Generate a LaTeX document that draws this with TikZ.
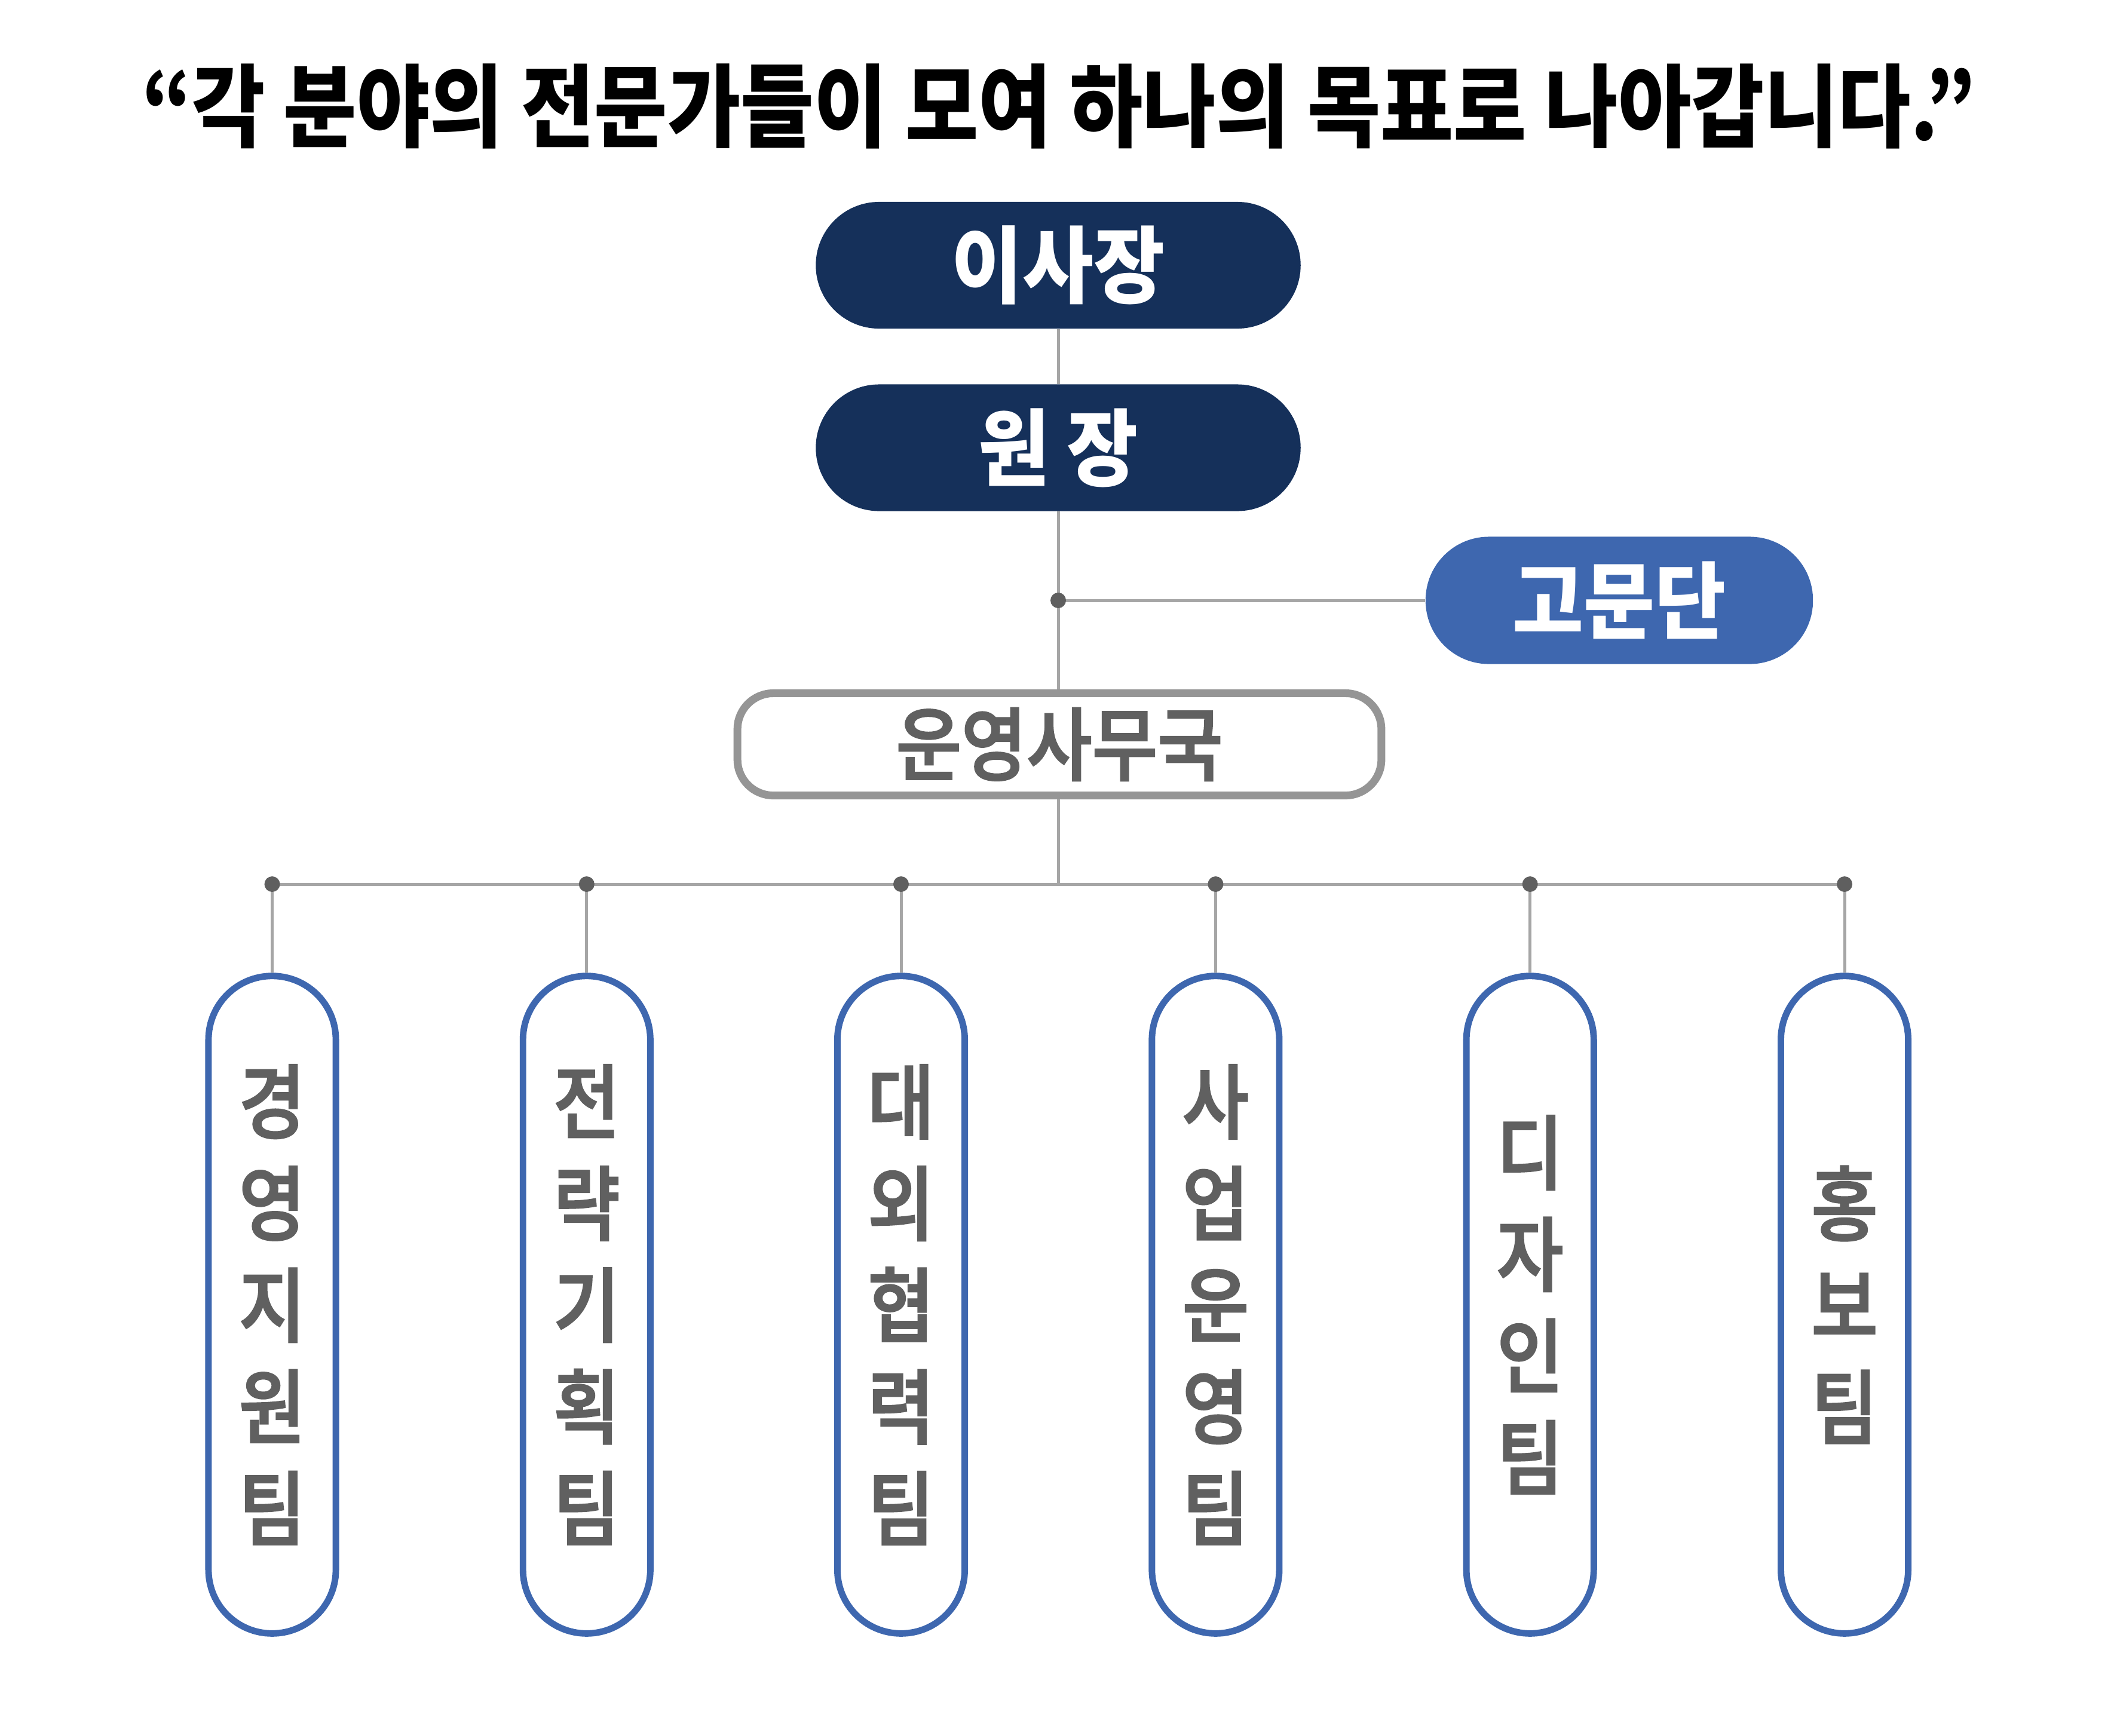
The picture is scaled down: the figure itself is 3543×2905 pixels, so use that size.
\documentclass[tikz,border=0pt]{standalone}
\usepackage{fontspec}
\setmainfont{Noto Sans CJK KR}[FakeStretch=0.92]
\newfontfamily\headfont{Noto Sans CJK KR}[FakeStretch=0.88]
\newfontfamily\grayfont{Noto Sans CJK KR Medium}[FakeStretch=0.89,FakeBold=2]
\definecolor{navy}{HTML}{15305A}
\definecolor{midblue}{HTML}{3E67AF}
\definecolor{linegray}{HTML}{A6A6A6}
\definecolor{dotgray}{HTML}{5F5F5F}
\definecolor{txtgray}{HTML}{606060}
\definecolor{boxgray}{HTML}{959595}
\def\pdot{\fill[dotgray]}

\begin{document}
\begin{tikzpicture}[x=0.01cm,y=-0.01cm,
    headline/.style={font=\headfont\bfseries\fontsize{43}{51}\selectfont,inner sep=0pt},
    darkbox/.style={fill=navy,text=white,font=\bfseries\fontsize{40}{48}\selectfont,
        minimum width=8.11cm,minimum height=2.12cm,rounded corners=1.06cm,inner sep=0pt},
    advbox/.style={fill=midblue,text=white,font=\bfseries\fontsize{40}{48}\selectfont,
        minimum width=6.48cm,minimum height=2.13cm,rounded corners=1.06cm,inner sep=0pt},
    opsbox/.style={draw=boxgray,line width=3.7pt,fill=white,text=txtgray,
        font=\grayfont\fontsize{38}{46}\selectfont,
        minimum width=10.77cm,minimum height=1.71cm,rounded corners=0.6cm,inner sep=0pt},
    teambox/.style={draw=midblue,line width=3.1pt,fill=white,text=txtgray,align=center,
        font=\grayfont\fontsize{38.7}{48.4}\selectfont,
        minimum width=2.13cm,minimum height=11cm,rounded corners=1.065cm,inner sep=0pt},
    conn/.style={draw=linegray,line width=1.42pt}]
    \fill[white] (0,0) rectangle (3543,2905);

    % title
    \node[headline] (head) at (1772,178) {“각 분야의 전문가들이 모여 하나의 목표로 나아갑니다.”};

    % top of the chart
    \node[darkbox] (chair) at (1771,444) {이사장};
    \node[darkbox] (dir) at (1771,749.5) {원 장};
    \node[advbox] (adv) at (2710,1005) {고문단};
    \node[opsbox] (ops) at (1773,1246) {운영사무국};
    \coordinate (jadv) at (1771,1005);

    % teams
    \node[teambox] (t1) at (455.5,2184) {경\\영\\지\\원\\팀};
    \node[teambox] (t2) at (981.8,2184) {전\\략\\기\\획\\팀};
    \node[teambox] (t3) at (1508,2184) {대\\외\\협\\력\\팀};
    \node[teambox] (t4) at (2034.4,2184) {사\\업\\운\\영\\팀};
    \node[teambox] (t5) at (2560.7,2184) {디\\자\\인\\팀};
    \node[teambox] (t6) at (3087,2184) {홍\\보\\팀};
    \coordinate (j1) at (455.5,1480);
    \coordinate (j2) at (981.8,1480);
    \coordinate (j3) at (1508,1480);
    \coordinate (j4) at (2034.4,1480);
    \coordinate (j5) at (2560.7,1480);
    \coordinate (j6) at (3087,1480);

    % connectors
    \draw[conn] (chair) -- (dir);
    \draw[conn] (dir.south) -- (ops.north -| dir.south);
    \draw[conn] (jadv) -- (adv);
    \draw[conn] (ops.south -| dir.south) -- (j1 -| dir.south);
    \draw[conn] (j1) -- (j6);
    \draw[conn] (j1) -- (t1);
    \draw[conn] (j2) -- (t2);
    \draw[conn] (j3) -- (t3);
    \draw[conn] (j4) -- (t4);
    \draw[conn] (j5) -- (t5);
    \draw[conn] (j6) -- (t6);

    % junction dots
    \pdot (jadv) circle (0.13cm);
    \pdot (j1) circle (0.13cm);
    \pdot (j2) circle (0.13cm);
    \pdot (j3) circle (0.13cm);
    \pdot (j4) circle (0.13cm);
    \pdot (j5) circle (0.13cm);
    \pdot (j6) circle (0.13cm);
\end{tikzpicture}
\end{document}
